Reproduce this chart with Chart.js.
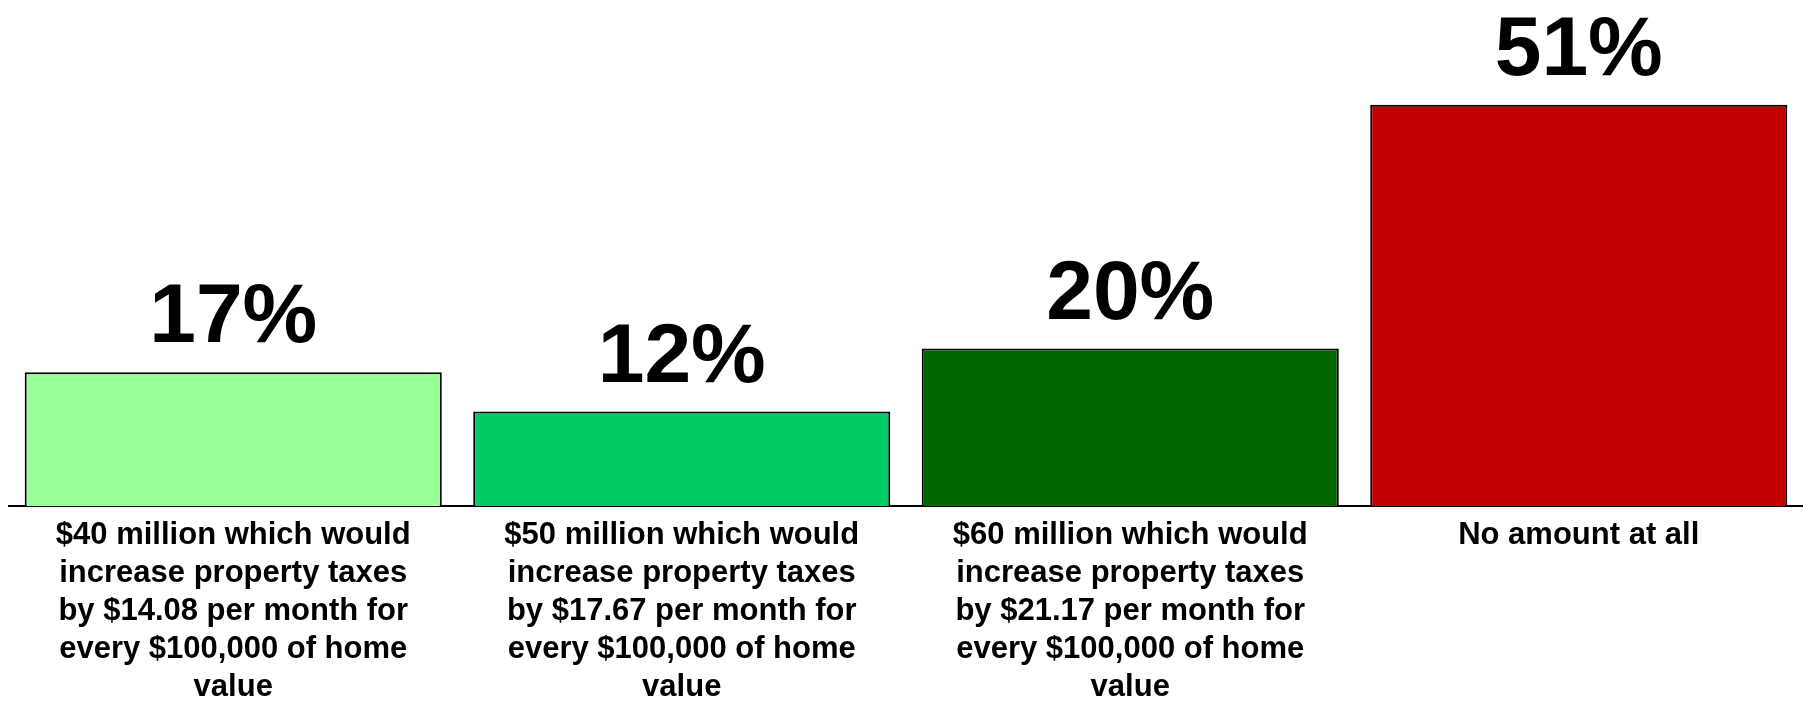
<!DOCTYPE html>
<html>
<head>
<meta charset="utf-8">
<script src="https://cdn.jsdelivr.net/npm/chart.js@4/dist/chart.umd.min.js"></script>
<style>
    html, body { margin: 0; padding: 0; background: #ffffff; }
    #wrap { width: 1803px; height: 702px; }
</style>
</head>
<body>
<div id="wrap"><canvas id="fundChart" width="1803" height="702"></canvas></div>
<script>
// --- DATA ---
const categories = [
    ['$40 million which would', 'increase property taxes', 'by $14.08 per month for', 'every $100,000 of home', 'value'],
    ['$50 million which would', 'increase property taxes', 'by $17.67 per month for', 'every $100,000 of home', 'value'],
    ['$60 million which would', 'increase property taxes', 'by $21.17 per month for', 'every $100,000 of home', 'value'],
    'No amount at all'
];
const percentages = [17, 12, 20, 51];
const barColors = ['#99ff99', '#00cc66', '#006600', '#c00000'];

// draws the big "NN%" above each bar
const valueLabels = {
    id: 'valueLabels',
    afterDatasetsDraw(chart) {
        const ctx = chart.ctx;
        const meta = chart.getDatasetMeta(0);
        ctx.save();
        ctx.font = 'bold 84px "Liberation Sans", Arial, sans-serif';
        ctx.fillStyle = '#000000';
        ctx.textAlign = 'center';
        ctx.textBaseline = 'alphabetic';
        meta.data.forEach((bar, i) => {
            ctx.fillText(percentages[i] + '%', bar.x, bar.y - 30);
        });
        ctx.restore();
    }
};

function initChart() {
    const ctx = document.getElementById('fundChart');
    new Chart(ctx.getContext('2d'), {
        type: 'bar',
        data: {
            labels: categories,
            datasets: [{
                data: percentages,
                backgroundColor: barColors,
                borderColor: '#000000',
                borderWidth: 2,
                categoryPercentage: 1,
                barPercentage: 0.93
            }]
        },
        options: {
            responsive: false,
            maintainAspectRatio: false,
            animation: false,
            layout: { padding: { left: 9, right: 0, top: 0, bottom: 0 } },
            scales: {
                y: {
                    display: false,
                    min: 0,
                    max: 64.3
                },
                x: {
                    grid: { display: false, drawTicks: false },
                    border: { display: true, color: '#000000', width: 2 },
                    ticks: {
                        color: '#000000',
                        padding: 10,
                        maxRotation: 0,
                        autoSkip: false,
                        font: { family: '"Liberation Sans", Arial, sans-serif', size: 31, weight: 'bold', lineHeight: 1.226 }
                    },
                    afterFit(scale) { scale.height = 196; }
                }
            },
            plugins: {
                legend: { display: false },
                tooltip: { enabled: false }
            }
        },
        plugins: [valueLabels]
    });
}

document.addEventListener('DOMContentLoaded', initChart);
</script>
</body>
</html>
